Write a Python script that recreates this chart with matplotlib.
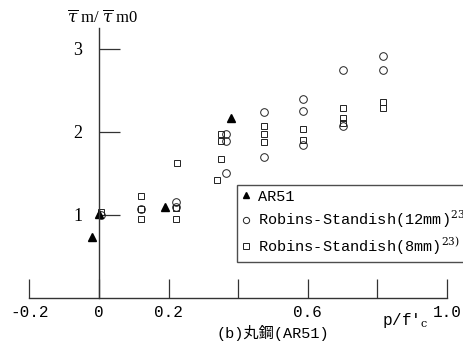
import matplotlib.pyplot as plt
from matplotlib.lines import Line2D

plt.rcParams['mathtext.fontset'] = 'dejavuserif'

# AR51 (filled triangles)
ar51_x = [-0.02, 0.0, 0.19, 0.38]
ar51_y = [0.74, 1.01, 1.10, 2.17]

# Robins-Standish 12mm (open circles)
c12_x = [0.005, 0.12, 0.22, 0.22, 0.365, 0.365, 0.365,
         0.475, 0.475, 0.585, 0.585, 0.585, 0.70, 0.70, 0.815, 0.815]
c12_y = [1.00, 1.07, 1.16, 1.10, 1.97, 1.89, 1.51,
         2.24, 1.70, 2.39, 2.25, 1.84, 2.75, 2.07, 2.91, 2.75]

# Robins-Standish 8mm (open squares)
s8_x = [0.005, 0.12, 0.12, 0.12, 0.22, 0.22, 0.225, 0.35, 0.35, 0.35, 0.34,
        0.475, 0.475, 0.475, 0.585, 0.585, 0.70, 0.70, 0.70, 0.815, 0.815]
s8_y = [1.03, 1.23, 1.07, 0.95, 1.08, 0.95, 1.63, 1.97, 1.89, 1.67, 1.42,
        2.07, 1.97, 1.88, 2.03, 1.90, 2.29, 2.17, 2.11, 2.36, 2.29]

xticks = [-0.2, 0, 0.2, 0.4, 0.6, 0.8, 1.0]
xlabels = ['-0.2', '0', '0.2', '', '0.6', '', '1.0']
yticks = [1, 2, 3]

W, H = 463, 347
fig = plt.figure(figsize=(W / 100, H / 100), dpi=100)
ax = fig.add_axes([29.4 / W, 49 / H, 417.6 / W, 270 / H])
ax.set_xlim(-0.2, 1.0)
ax.set_ylim(0, 3.25)

ax.plot(s8_x, s8_y, 's', ms=5, mfc='none', mec='#222', mew=0.7, ls='none')
ax.plot(c12_x, c12_y, 'o', ms=5.5, mfc='none', mec='#222', mew=0.7, ls='none')
ax.plot(ar51_x, ar51_y, '^', ms=5.5, color='black', ls='none')

for s in ['top', 'right']:
    ax.spines[s].set_visible(False)
ax.spines['left'].set_position(('data', 0))
for s in ['left', 'bottom']:
    ax.spines[s].set_color('#333')
    ax.spines[s].set_linewidth(1.0)

ax.set_xticks(xticks)
ax.set_xticklabels(xlabels, family='Liberation Mono', fontsize=11.5)
ax.set_yticks(yticks)
ax.set_yticklabels([str(v) for v in yticks], family='Liberation Serif', fontsize=13)
ax.tick_params(axis='x', direction='in', length=14, width=0.9, color='#333', pad=5)
ax.tick_params(axis='y', direction='in', length=15, width=0.9, color='#333', pad=12)

fig.text(102 / W, 1 - 17 / H, r'$\overline{\tau}$ m/ $\overline{\tau}$ m0',
         ha='center', va='center', fontsize=12, family='Liberation Serif')
fig.text(405 / W, 1 - 321 / H, "p/f'$_{\\rm c}$", ha='center', va='center',
         fontsize=11.5, family='Liberation Mono')
fig.text(273 / W, 1 - 333 / H, '(b)丸鋼(AR51)', ha='center', va='center',
         fontsize=11, family=['Liberation Mono', 'Noto Sans CJK JP'])

handles = [
    Line2D([], [], marker='^', color='black', ms=4.5, ls='none'),
    Line2D([], [], marker='o', mfc='none', mec='#222', ms=4.5, mew=0.7, ls='none'),
    Line2D([], [], marker='s', mfc='none', mec='#222', ms=4.5, mew=0.7, ls='none'),
]
labels = ['AR51', r'Robins-Standish(12mm)$^{\rm 23)}$', r'Robins-Standish(8mm)$^{\rm 23)}$']
leg = fig.legend(handles, labels, loc='upper left',
                 bbox_to_anchor=(237 / W, 1 - 185 / H),
                 prop={'family': 'Liberation Mono', 'size': 11},
                 frameon=True, fancybox=False, edgecolor='#222',
                 handlelength=0.6, handletextpad=0.5, borderpad=0.3,
                 labelspacing=0.35, borderaxespad=0)
leg.get_frame().set_linewidth(1.0)

fig.savefig('out.png', dpi=100)
